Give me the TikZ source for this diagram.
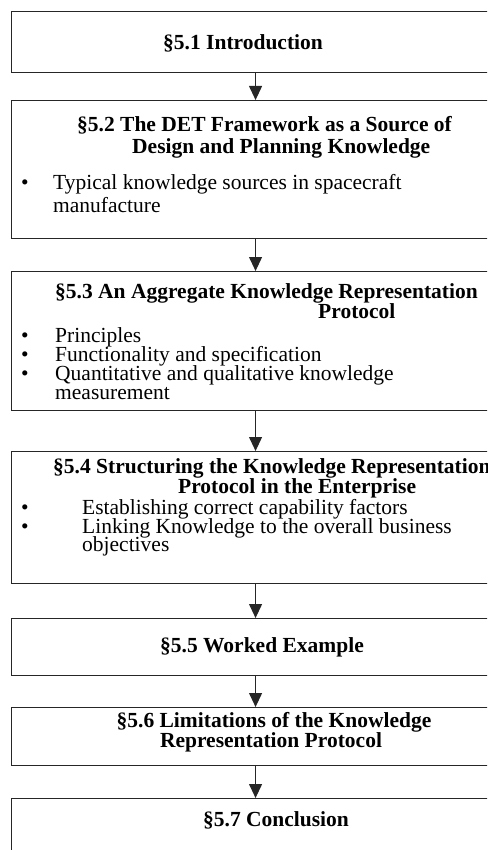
\documentclass[tikz,border=0pt]{standalone}
\usepackage{fontspec}
\setmainfont{Liberation Serif}
\usetikzlibrary{arrows.meta}
\begin{document}
\begin{tikzpicture}[x=1pt,y=-1pt,
  box/.style={draw=black!85, line width=1.1pt, rectangle, inner sep=0pt, anchor=north west},
  ttl/.style={inner sep=0pt, font=\fontsize{21.5}{21}\selectfont\bfseries},
  txt/.style={inner sep=0pt, font=\fontsize{21.5}{21}\selectfont, anchor=base west},
  bul/.style={inner sep=0pt, font=\fontsize{21.5}{21}\selectfont, anchor=base},
  arr/.style={draw=black!85, line width=1.1pt, -{Triangle[width=13pt,length=14pt]}}]
\useasboundingbox (0,0) rectangle (487,850);
\clip (0,0) rectangle (487,850);
% boxes
\node[box, minimum width=488pt, minimum height=61pt] (b1) at (11,11) {};
\node[box, minimum width=488pt, minimum height=138pt] (b2) at (11,100) {};
\node[box, minimum width=488pt, minimum height=139pt] (b3) at (11,271) {};
\node[box, minimum width=488pt, minimum height=132pt] (b4) at (11,451) {};
\node[box, minimum width=488pt, minimum height=57pt] (b5) at (11,618) {};
\node[box, minimum width=488pt, minimum height=58pt] (b6) at (11,707) {};
\node[box, minimum width=488pt, minimum height=80pt] (b7) at (11,798) {};
% texts box 1
\node[ttl, anchor=base west] (t1) at (163,50) {§5.1 Introduction};
% box 2
\node[ttl, anchor=base west] (t2a) at (77,132) {§5.2 The DET Framework as a Source of};
\node[ttl, anchor=base west] (t2b) at (132,154) {Design and Planning Knowledge};
\node[bul] (u2a) at (25,190) {•};
\node[txt] (s2a) at (53,190) {Typical knowledge sources in spacecraft};
\node[txt] (s2b) at (53,213) {manufacture};
% box 3
\node[ttl, anchor=base west] (t3a) at (55,298) {§5.3 An Aggregate Knowledge Representation};
\node[ttl, anchor=base west] (t3b) at (318,318) {Protocol};
\node[bul] (u3a) at (25,342) {•};
\node[txt] (s3a) at (55,342) {Principles};
\node[bul] (u3b) at (25,361) {•};
\node[txt] (s3b) at (55,361) {Functionality and specification};
\node[bul] (u3c) at (25,380) {•};
\node[txt] (s3c) at (55,380) {Quantitative and qualitative knowledge};
\node[txt] (s3d) at (55,399) {measurement};
% box 4
\node[ttl, anchor=base west] (t4a) at (53,473) {§5.4 Structuring the Knowledge Representation};
\node[ttl, anchor=base west] (t4b) at (178,493) {Protocol in the Enterprise};
\node[bul] (u4a) at (25,514) {•};
\node[txt] (s4a) at (82,514) {Establishing correct capability factors};
\node[bul] (u4b) at (25,533) {•};
\node[txt] (s4b) at (82,533) {Linking Knowledge to the overall business};
\node[txt] (s4c) at (82,551) {objectives};
% box 5
\node[ttl, anchor=base] (t5) at (262,652) {§5.5 Worked Example};
% box 6
\node[ttl, anchor=base] (t6a) at (274,727) {§5.6 Limitations of the Knowledge};
\node[ttl, anchor=base] (t6b) at (271,747) {Representation Protocol};
% box 7
\node[ttl, anchor=base] (t7) at (276,826) {§5.7 Conclusion};
% arrows
\draw[arr] (b1.south) -- (b2.north);
\draw[arr] (b2.south) -- (b3.north);
\draw[arr] (b3.south) -- (b4.north);
\draw[arr] (b4.south) -- (b5.north);
\draw[arr] (b5.south) -- (b6.north);
\draw[arr] (b6.south) -- (b7.north);
\end{tikzpicture}
\end{document}
